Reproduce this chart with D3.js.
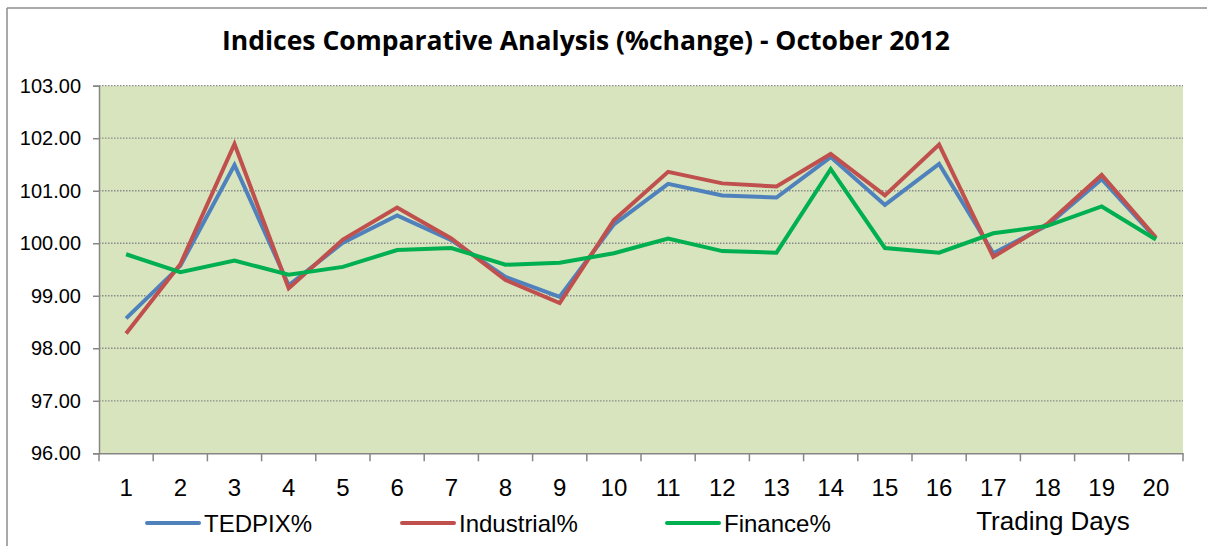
<!DOCTYPE html>
<html>
<head>
<meta charset="utf-8">
<script src="https://cdn.jsdelivr.net/npm/d3@7"></script>
<style>
  html, body { margin: 0; padding: 0; background: #ffffff; }
  svg { display: block; }
</style>
</head>
<body>
<svg id="chart" width="1207" height="546"></svg>
<script>
const days = ["1","2","3","4","5","6","7","8","9","10","11","12","13","14","15","16","17","18","19","20"];
const tedpix = [98.57, 99.57, 101.49, 99.20, 100.01, 100.53, 100.06, 99.36, 98.98, 100.36, 101.13, 100.91, 100.87, 101.64, 100.73, 101.51, 99.81, 100.34, 101.22, 100.09];
const industrial = [98.28, 99.60, 101.89, 99.14, 100.07, 100.68, 100.09, 99.30, 98.86, 100.44, 101.36, 101.14, 101.08, 101.70, 100.91, 101.88, 99.74, 100.37, 101.30, 100.11];
const finance = [99.79, 99.45, 99.67, 99.40, 99.55, 99.87, 99.91, 99.59, 99.63, 99.81, 100.09, 99.85, 99.82, 101.41, 99.91, 99.82, 100.19, 100.33, 100.70, 100.07];
const yTicks = [96, 97, 98, 99, 100, 101, 102, 103];
const seriesNames = ["TEDPIX%", "Industrial%", "Finance%"];
const seriesColors = ["#4F81BD", "#C0504D", "#00B050"];
const titleText = "Indices Comparative Analysis (%change) - October 2012";
const axisTitle = "Trading Days";

const series = [tedpix, industrial, finance];
const svg = d3.select("#chart");

const plot = { left: 99, right: 1183, top: 85.7, bottom: 453.3 };
const x = d3.scaleBand().domain(days).range([plot.left, plot.right]);
const y = d3.scaleLinear().domain([96, 103]).range([plot.bottom, plot.top]);

// outer frame
svg.append("line").attr("x1", 7).attr("x2", 1207).attr("y1", 8).attr("y2", 8)
  .attr("stroke", "#8c8c8c").attr("stroke-width", 1.5);
svg.append("line").attr("x1", 7).attr("x2", 7).attr("y1", 8).attr("y2", 546)
  .attr("stroke", "#8c8c8c").attr("stroke-width", 1.5);

// plot background
svg.append("rect").attr("x", plot.left).attr("y", plot.top)
  .attr("width", plot.right - plot.left).attr("height", plot.bottom - plot.top)
  .attr("fill", "#D7E4BD");

// gridlines
svg.append("g").selectAll("line").data(yTicks.filter(t => t !== 96)).join("line")
  .attr("x1", plot.left).attr("x2", plot.right)
  .attr("y1", d => y(d)).attr("y2", d => y(d))
  .attr("stroke", "#8a8a8a").attr("stroke-width", 1.3).attr("stroke-dasharray", "1.5,1.5");

// title
svg.append("text").attr("x", 586).attr("y", 50)
  .attr("text-anchor", "middle")
  .attr("font-family", "'Open Sans', 'Liberation Sans', sans-serif")
  .attr("font-weight", "bold").attr("font-size", 27)
  .attr("textLength", 728).attr("lengthAdjust", "spacingAndGlyphs")
  .attr("fill", "#000").text(titleText);

// y axis
const yAxis = d3.axisLeft(y).tickValues(yTicks).tickSize(6).tickPadding(12)
  .tickFormat(d3.format(".2f"));
const gy = svg.append("g").attr("transform", `translate(${plot.left},0)`).call(yAxis);
gy.select(".domain").attr("stroke", "#868686").attr("stroke-width", 1.5);
gy.selectAll(".tick line").attr("stroke", "#868686").attr("stroke-width", 1.5);
gy.selectAll(".tick text").attr("font-family", "'Liberation Sans', Arial, sans-serif")
  .attr("font-size", 20).attr("fill", "#000");

// x axis: line + tick marks at category boundaries
const xAxis = d3.axisBottom(x).tickSize(0).tickPadding(26);
const gx = svg.append("g").attr("transform", `translate(0,${plot.bottom})`).call(xAxis);
gx.select(".domain").attr("stroke", "#868686").attr("stroke-width", 1.5);
gx.selectAll(".tick text").attr("font-family", "'Liberation Sans', Arial, sans-serif")
  .attr("font-size", 24).attr("fill", "#000");
const boundaries = days.map(d => x(d)).concat([plot.right]);
svg.append("g").selectAll("line").data(boundaries).join("line")
  .attr("x1", d => d).attr("x2", d => d)
  .attr("y1", plot.bottom).attr("y2", plot.bottom + 8)
  .attr("stroke", "#868686").attr("stroke-width", 1.5);

// lines
const line = d3.line()
  .x((d, i) => x(days[i]) + x.bandwidth() / 2)
  .y(d => y(d));
svg.append("g").selectAll("path").data(series).join("path")
  .attr("d", d => line(d))
  .attr("fill", "none")
  .attr("stroke", (d, i) => seriesColors[i])
  .attr("stroke-width", 4)
  .attr("stroke-linejoin", "miter");

// legend
const legendX = [147, 402, 667];
const legendY = 523;
const lg = svg.append("g").selectAll("g").data(seriesNames).join("g")
  .attr("transform", (d, i) => `translate(${legendX[i]},${legendY})`);
lg.append("line").attr("x1", 0).attr("x2", 52).attr("y1", 0).attr("y2", 0)
  .attr("stroke", (d, i) => seriesColors[i]).attr("stroke-width", 4)
  .attr("stroke-linecap", "round");
lg.append("text").attr("x", 57).attr("y", 8.5)
  .attr("font-family", "'Liberation Sans', Arial, sans-serif")
  .attr("font-size", 24).attr("fill", "#000")
  .text(d => d);

// axis title
svg.append("text").attr("x", 1053).attr("y", 530).attr("text-anchor", "middle")
  .attr("font-family", "'Liberation Sans', Arial, sans-serif")
  .attr("font-size", 26).attr("fill", "#000").text(axisTitle);
</script>
</body>
</html>
